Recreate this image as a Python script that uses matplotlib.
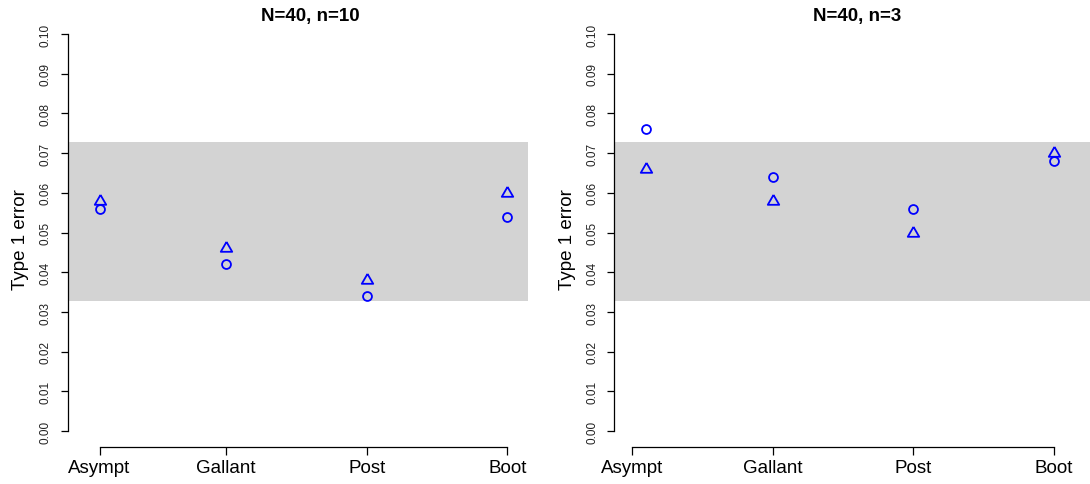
import matplotlib
matplotlib.use("Agg")
import matplotlib.pyplot as plt
from matplotlib.ticker import FixedLocator

plt.rcParams['font.family'] = ['Liberation Sans', 'DejaVu Sans']

# -- Data --
methods = ["Asympt", "Gallant", "Post", "Boot"]
method_x = [1.1, 2, 3, 4]
titles = ["N=40, n=10", "N=40, n=3"]
circles_n10 = [0.056, 0.042, 0.034, 0.054]
triangles_n10 = [0.058, 0.046, 0.038, 0.060]
circles_n3 = [0.076, 0.064, 0.056, 0.068]
triangles_n3 = [0.066, 0.058, 0.050, 0.070]
band_low, band_high = 0.0327, 0.0727
y_ticks = [i / 100 for i in range(11)]

W, H = 1090, 485
fig = plt.figure(figsize=(W / 100, H / 100), dpi=100)

tri = [(0, 1), (-0.866, -0.5), (0.866, -0.5), (0, 1)]
xlim = (0.872, 4.328)


def make_panel(left_px, title, circ, trian, xticks, band_right):
    top_px, bot_px = 19.1, 448.1
    ax = fig.add_axes([left_px / W, (H - bot_px) / H, 486 / W, (bot_px - top_px) / H])
    ax.set_xlim(*xlim)
    ax.set_ylim(-0.004, 0.104)
    ax.axhspan(band_low, band_high, xmin=0, xmax=band_right, color='#d3d3d3', lw=0, zorder=0)

    ax.plot(method_x, trian, ls='none', marker=tri, ms=9.5, mfc='none', mec='#0000ff', mew=1.3, zorder=3)
    ax.plot(method_x, circ, ls='none', marker='o', ms=6.4, mfc='none', mec='#0000ff', mew=1.3, zorder=3)

    for s in ['top', 'right']:
        ax.spines[s].set_visible(False)
    ax.spines['left'].set_bounds(0, 0.1)
    ax.spines['bottom'].set_bounds(xticks[0], xticks[-1])
    for s in ['left', 'bottom']:
        ax.spines[s].set_linewidth(0.9)

    ax.yaxis.set_major_locator(FixedLocator(y_ticks))
    ax.set_yticklabels([f"{v:.2f}" for v in y_ticks], rotation=90, va='center', fontsize=8.5, color='#222222')
    ax.tick_params(axis='y', length=5, width=0.9, pad=6.5)

    ax.xaxis.set_major_locator(FixedLocator(xticks))
    ax.set_xticklabels(methods, fontsize=13.5)
    ax.tick_params(axis='x', length=5.6, width=0.9, pad=3)

    cx = left_px + 243
    fig.text(cx / W, (H - 21.5) / H, title, ha='center', va='baseline', fontsize=13.5, fontweight='bold')
    fig.text((left_px - 47) / W, (H - 240) / H, "Type 1 error", rotation=90, ha='center', va='center', fontsize=13.5)
    return ax


make_panel(67.5, titles[0], circles_n10, triangles_n10, method_x, (4.149 - xlim[0]) / (xlim[1] - xlim[0]))
make_panel(614.2, titles[1], circles_n3, triangles_n3, [1, 2, 3, 4], 1.0)

fig.savefig("out.png", dpi=100)
